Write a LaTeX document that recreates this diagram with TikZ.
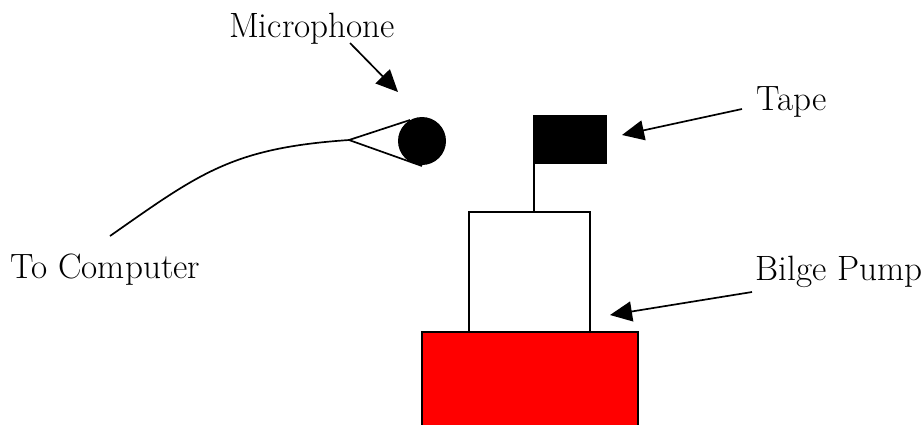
\documentclass[tikz,border=0pt]{standalone}
\usepackage{tikz}
\usetikzlibrary{arrows.meta}
\tikzset{>={Triangle[length=0.55cm,width=0.5cm]}}
\definecolor{pumpred}{HTML}{FF0000}

\begin{document}
\begin{tikzpicture}[x=0.025cm, y=-0.025cm, line width=1.2pt,
    label text/.style={font=\fontsize{25}{30}\selectfont, inner sep=0pt}]
            \useasboundingbox (0, 0) rectangle (921, 424);
            \fill[white] (0, 0) rectangle (921, 424);
            \draw[fill=pumpred] (422, 440) -- (422, 332) -- (638, 332) -- (638, 440);
            \draw[fill=white] (469, 212) rectangle (590, 332);
            \draw (534, 212) coordinate (pole) -- (534, 164);
            \fill (533, 115) rectangle (607, 164);
            \coordinate (apex) at (349, 140);
            \draw (apex) -- (410, 120);
            \draw (apex) -- (422, 166);
            \fill (422, 141) circle [radius = 24];
            \draw (110, 236) coordinate (cable) .. controls (200, 173) and (232, 148) .. (apex);
            \node[label text, anchor=base] (mic) at (312, 37) {Microphone};
            \node[label text, anchor=base west] (tape) at (756, 110) {Tape};
            \node[label text, anchor=base west] (pump) at (755, 280) {Bilge Pump};
            \node[label text, anchor=base west] (comp) at (10, 278) {To Computer};
            \coordinate (mic tail) at (350, 43);
            \coordinate (mic tip) at (398, 92);
            \coordinate (tape tail) at (742, 109);
            \coordinate (tape tip) at (622, 135);
            \coordinate (pump tail) at (752, 292);
            \coordinate (pump tip) at (610, 315);
            \draw[->] (mic tail) -- (mic tip);
            \draw[->] (tape tail) -- (tape tip);
            \draw[->] (pump tail) -- (pump tip);
        \end{tikzpicture}
\end{document}
